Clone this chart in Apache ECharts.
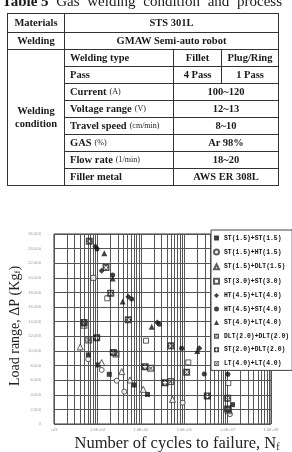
<!DOCTYPE html>
<html><head><meta charset="utf-8">
<script src="https://cdn.jsdelivr.net/npm/echarts@6/dist/echarts.min.js"></script>
<style>
html,body{margin:0;padding:0;background:#fff;}
body{width:292px;height:452px;position:relative;overflow:hidden;}
#chart{position:absolute;left:0;top:0;width:292px;height:452px;}
#tbl{position:absolute;left:0;top:0;width:292px;height:200px;font-family:'Liberation Serif','Times New Roman',serif;color:#1a1a1a;z-index:2;}
.cell{position:absolute;box-sizing:border-box;border:1px solid #333;display:flex;align-items:center;font-weight:bold;font-size:10.5px;white-space:nowrap;line-height:1.2;}
.c{justify-content:center;text-align:center;}
.l{padding-left:5px;}
.u{font-weight:normal;font-size:8px;margin-left:3px;}
#title{position:absolute;left:2px;top:-6px;width:280px;font-size:15px;line-height:15px;display:flex;justify-content:space-between;white-space:nowrap;color:#1a1a1a;}
#title b{font-weight:bold;}
</style></head>
<body>
<div id="chart"></div>
<div id="tbl">
  <div id="title"><b>Table 5</b><span>Gas</span><span>welding</span><span>condition</span><span>and</span><span>process</span></div>
</div>
<script>
// ---------- chart data ----------
const seriesNames = [
  'ST(1.5)+ST(1.5)', 'ST(1.5)+HT(1.5)', 'ST(1.5)+DLT(1.5)', 'ST(3.0)+ST(3.0)',
  'HT(4.5)+LT(4.0)', 'HT(4.5)+ST(4.0)', 'ST(4.0)+LT(4.0)', 'DLT(2.0)+DLT(2.0)',
  'ST(2.0)+DLT(2.0)', 'LT(4.0)+LT(4.0)'
];
const xTickValues = [1e3, 1e4, 1e5, 1e6, 1e7, 1e8];
const minorMultipliers = [2, 3, 4, 5, 6, 7, 8, 9];
const yMin = 0, yMax = 26000, yStep = 2000;

const cyclesST15ST15 = [6170, 10490, 18800, 69660, 142600, 12970000];
const loadST15ST15   = [9450, 8080, 6800, 5340, 4050, 2650];

const cyclesST15HT15 = [6170, 12560, 27860, 41690, 922600, 11350000];
const loadST15HT15   = [8860, 7400, 5930, 4430, 2920, 1350];

const cyclesST15DLT15 = [4020, 12560, 36310, 56360, 114200, 537000];
const loadST15DLT15   = [10550, 8400, 7170, 6030, 4750, 3380];

const cyclesST30ST30 = [8050, 16900, 131800, 1243000, 10370000];
const loadST30ST30   = [20000, 17200, 11400, 8430, 5600];

const cyclesHT45LT40 = [9040, 12560, 51520, 239900, 2228000];
const loadHT45LT40   = [24300, 20960, 17400, 13900, 10350];

const cyclesHT45ST40 = [9790, 22520, 61660, 266800, 875000, 2904000, 10150000];
const loadHT45ST40   = [23950, 20400, 17100, 13650, 10370, 6850, 6800];

const cyclesST40LT40 = [14420, 22520, 38280, 178200, 2004000];
const loadST40LT40   = [23380, 19900, 16750, 13300, 10000];

const cyclesDLT20DLT20 = [6510, 15780, 20240, 51520, 488700, 1142000, 10050000];
const loadDLT20DLT20   = [25000, 21400, 17900, 14250, 10700, 7080, 3520];

const cyclesST20DLT20 = [4910, 9640, 23250, 125000, 361100, 3404000, 10050000];
const loadST20DLT20   = [13900, 11800, 9770, 7850, 5660, 3840, 2060];

const cyclesLT40LT40 = [4910, 6310, 26840, 169000, 488700, 10450000];
const loadLT40LT40   = [13500, 11500, 9590, 7630, 5800, 1800];

// ---------- table ----------
const tc = [7, 64, 173, 221, 278];
const tr = [13, 32, 49, 66, 83, 100, 117, 134, 151, 168, 185];
const cells = [
  [0,1,0,1,'Materials','c'], [1,4,0,1,'STS 301L','c'],
  [0,1,1,2,'Welding','c'], [1,4,1,2,'GMAW Semi-auto robot','c'],
  [0,1,2,10,'Welding<br>condition','c'],
  [1,2,2,3,'Welding type','l'], [2,3,2,3,'Fillet','c'], [3,4,2,3,'Plug/Ring','c'],
  [1,2,3,4,'Pass','l'], [2,3,3,4,'4 Pass','c'], [3,4,3,4,'1 Pass','c'],
  [1,2,4,5,'Current<span class="u">(A)</span>','l'], [2,4,4,5,'100~120','c'],
  [1,2,5,6,'Voltage range<span class="u">(V)</span>','l'], [2,4,5,6,'12~13','c'],
  [1,2,6,7,'Travel speed<span class="u">(cm/min)</span>','l'], [2,4,6,7,'8~10','c'],
  [1,2,7,8,'GAS<span class="u">(%)</span>','l'], [2,4,7,8,'Ar 98%','c'],
  [1,2,8,9,'Flow rate<span class="u">(1/min)</span>','l'], [2,4,8,9,'18~20','c'],
  [1,2,9,10,'Filler metal','l'], [2,4,9,10,'AWS ER 308L','c']
];
const tbl = document.getElementById('tbl');
cells.forEach(([a,b,c,d,html,al]) => {
  const el = document.createElement('div');
  el.className = 'cell ' + al;
  el.style.left = tc[a] + 'px';
  el.style.width = (tc[b] - tc[a] + 1) + 'px';
  el.style.top = tr[c] + 'px';
  el.style.height = (tr[d] - tr[c] + 1) + 'px';
  el.innerHTML = html;
  tbl.appendChild(el);
});

// ---------- chart ----------
const zip = (xs, ys) => xs.map((x, i) => [x, ys[i]]);
const SYM_XBOX = 'path://M0 0H10V10H0Z M2 3L4 5L2 7L3 8L5 6L7 8L8 7L6 5L8 3L7 2L5 4L3 2Z';
const SYM_PBOX = 'path://M0 0H10V10H0Z M4 2V4H2V6H4V8H6V6H8V4H6V2Z';
const SYM_RBOX = 'path://M0 0H10V10H0Z M1.6 1.6V8.4H8.4V1.6Z M3 2L5 4L7 2L8 3L6 5L8 7L7 8L5 6L3 8L2 7L4 5L2 3Z';
const dark = '#111';
const hollow = {color:'#fff', borderColor:'#333', borderWidth:1};
const spec = [
  [cyclesST15ST15, loadST15ST15, 'rect', 5, {color:dark}],
  [cyclesST15HT15, loadST15HT15, 'circle', 5, hollow],
  [cyclesST15DLT15, loadST15DLT15, 'triangle', 6, hollow],
  [cyclesST30ST30, loadST30ST30, 'rect', 5, hollow],
  [cyclesHT45LT40, loadHT45LT40, 'diamond', 6, {color:dark}],
  [cyclesHT45ST40, loadHT45ST40, 'circle', 5, {color:dark}],
  [cyclesST40LT40, loadST40LT40, 'triangle', 6, {color:dark}],
  [cyclesDLT20DLT20, loadDLT20DLT20, SYM_XBOX, 7, {color:'#222'}],
  [cyclesST20DLT20, loadST20DLT20, SYM_PBOX, 7, {color:'#111'}],
  [cyclesLT40LT40, loadLT40LT40, SYM_RBOX, 7, {color:'#333'}]
];
const series = spec.map((s, i) => ({
  name: seriesNames[i], type:'scatter', data: zip(s[0], s[1]),
  symbol: s[2], symbolSize: s[3], itemStyle: s[4], z: 3, silent:true
}));
const minorLines = [];
xTickValues.slice(0, -1).forEach(d => minorMultipliers.forEach(m => minorLines.push({xAxis: d * m})));
series.push({
  type:'scatter', data:[], silent:true, z:1,
  markLine:{silent:true, symbol:'none', label:{show:false}, animation:false, z:1,
    lineStyle:{color:'#555', width:1, type:'solid'}, data: minorLines}
});

const chart = echarts.init(document.getElementById('chart'));
chart.setOption({
  animation:false,
  grid:{left:54, top:234, width:217, height:190, show:true, borderColor:'#333', borderWidth:1},
  xAxis:{type:'log', logBase:10, min:xTickValues[0], max:xTickValues[xTickValues.length-1],
    axisLine:{show:false}, axisTick:{show:false},
    splitLine:{show:true, lineStyle:{color:'#555', width:1}},
    axisLabel:{fontSize:4, color:'#999', margin:4, fontFamily:'Arial, Liberation Sans',
      formatter: v => { const e = Math.round(Math.log10(v)); return e === 3 ? '+03' : '1.0E+0' + e; }}},
  yAxis:{type:'value', min:yMin, max:yMax, interval:yStep,
    axisLine:{show:false}, axisTick:{show:false},
    splitLine:{show:true, lineStyle:{color:'#555', width:1}},
    axisLabel:{fontSize:4.2, color:'#999', margin:13, fontFamily:'Arial, Liberation Sans',
      formatter: v => v.toLocaleString('en-US')}},
  legend:{orient:'vertical', left:211, top:230, zlevel:1, z:10, padding:[5,3,4,2], itemWidth:5, itemHeight:5, itemGap:7.6,
    backgroundColor:'#fff', borderColor:'#444', borderWidth:1, selectedMode:false, data:seriesNames,
    textStyle:{fontFamily:'Liberation Mono', fontWeight:'bold', fontSize:6.4, lineHeight:6, color:'#111'}},
  graphic:[
    {type:'text', x:15, y:326, rotation:Math.PI/2, silent:true,
      style:{text:'{a|Load range, ΔP (Kg}{s|f}{a|)}', textAlign:'center', textVerticalAlign:'middle',
        rich:{a:{fontSize:14, fontFamily:'Liberation Serif', fill:'#222'}, s:{fontSize:9, fontFamily:'Liberation Serif', fill:'#222', padding:[6,0,0,0]}}}},
    {type:'text', x:177, y:444, silent:true,
      style:{text:'{a|Number of cycles to failure, N}{s|f}', textAlign:'center', textVerticalAlign:'middle',
        rich:{a:{fontSize:16.5, fontFamily:'Liberation Serif', fill:'#222'}, s:{fontSize:10, fontFamily:'Liberation Serif', fill:'#222', padding:[7,0,0,0]}}}}
  ],
  series: series
});
</script>
</body></html>
